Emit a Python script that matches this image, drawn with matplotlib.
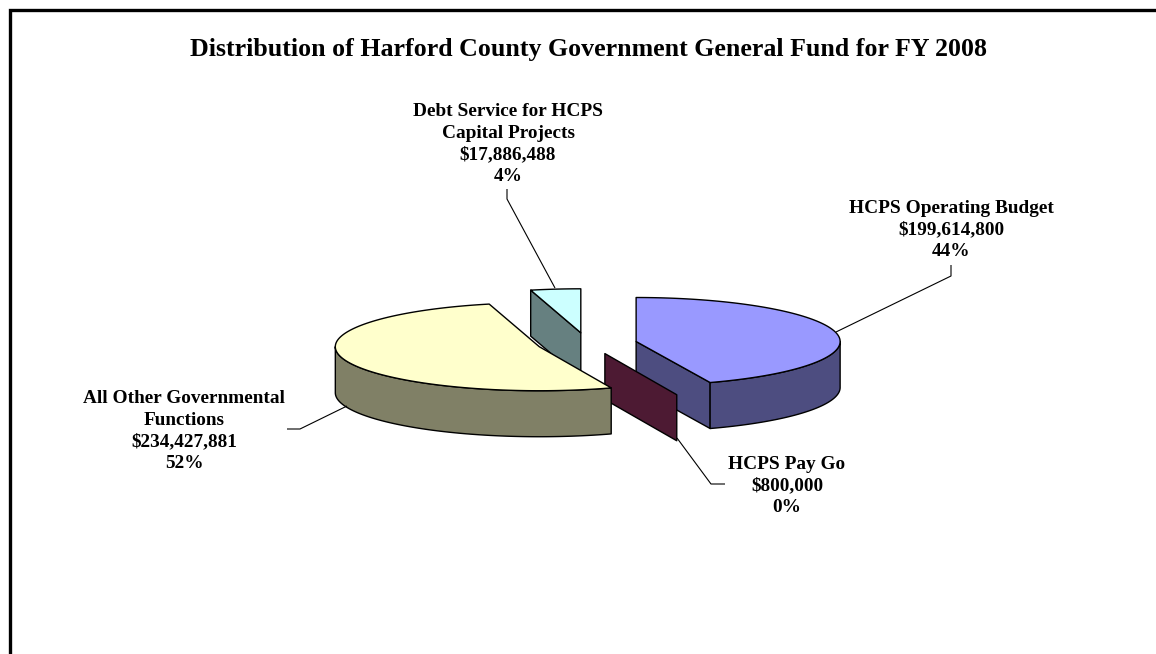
import numpy as np
import matplotlib
matplotlib.use("Agg")
import matplotlib.pyplot as plt
from matplotlib.patches import Polygon

# ---- data ----
categories = ["HCPS Operating Budget", "HCPS Pay Go",
              "All Other Governmental Functions",
              "Debt Service for HCPS Capital Projects"]
values = [199614800, 800000, 234427881, 17886488]
label_texts = ["HCPS Operating Budget\n$199,614,800\n44%",
               "HCPS Pay Go\n$800,000\n0%",
               "All Other Governmental\nFunctions\n$234,427,881\n52%",
               "Debt Service for HCPS\nCapital Projects\n$17,886,488\n4%"]
title = "Distribution of Harford County Government General Fund for FY 2008"
top_colors = ["#9999FF", "#660033", "#FFFFCC", "#CCFFFF"]
side_colors = ["#4D4D80", "#4D1A33", "#808066", "#668080"]

# ---- layout (pixel space) ----
W, H = 1156, 654
CX, CY = 587, 343.5      # pie centre
RX, RY = 204, 44         # projected radii
DEPTH = 46               # pie thickness
EXPLODE = 0.245
draw_order = [3, 0, 1, 2]
label_pos = [(951, 230), (787, 486), (184, 431), (508, 144)]
leaders = [[(836, 332), (951, 276), (951, 265)],
           [(677, 438), (711, 484), (725, 484)],
           [(347, 406), (300, 429), (287, 429)],
           [(555, 288), (507, 199), (507, 189)]]

plt.rcParams["font.family"] = ["Liberation Serif", "DejaVu Serif"]
fig = plt.figure(figsize=(W / 100, H / 100), dpi=100, facecolor="white")
ax = fig.add_axes([0, 0, 1, 1])
ax.set_xlim(0, W)
ax.set_ylim(H, 0)
ax.axis("off")


def rim(c, a0, a1, n=None):
    n = n or max(2, int(abs(a1 - a0)) * 2)
    t = np.radians(np.linspace(a0, a1, n))
    return np.column_stack([c[0] + RX * np.sin(t), c[1] - RY * np.cos(t)])


def shift(p, d=DEPTH):
    return np.asarray(p) + np.array([0, d])


fractions = np.array(values, dtype=float) / np.sum(values)
edges = np.concatenate([[0], np.cumsum(fractions) * 360])

for i in draw_order:
    a0, a1 = edges[i], edges[i + 1]
    mid = np.radians((a0 + a1) / 2)
    c = np.array([CX + EXPLODE * RX * np.sin(mid), CY - EXPLODE * RY * np.cos(mid)])
    kw = dict(edgecolor="black", linewidth=1.0, joinstyle="round",
              facecolor=side_colors[i])
    # flat cut faces that look towards the viewer
    for a, normal in ((a0, a0 - 90), (a1, a1 + 90)):
        if np.cos(np.radians(normal)) < -1e-6:
            p = rim(c, a, a, 2)[0]
            quad = np.array([c, p, shift(p), shift(c)])
            ax.add_patch(Polygon(quad, closed=True, **kw))
    if a1 - a0 < 1:       # sliver: only its cut face shows
        continue
    # outer wall (only the front half, 90..270 degrees)
    w0, w1 = max(a0, 90), min(a1, 270)
    if w1 > w0:
        wall = rim(c, w0, w1)
        ax.add_patch(Polygon(np.vstack([wall, shift(wall)[::-1]]), closed=True, **kw))
    # top face
    top = np.vstack([[c], rim(c, a0, a1)])
    ax.add_patch(Polygon(top, closed=True, facecolor=top_colors[i],
                         edgecolor="black", linewidth=1.0, joinstyle="round"))

for pts in leaders:
    xs, ys = zip(*pts)
    ax.plot(xs, ys, color="black", lw=0.8, solid_capstyle="butt", zorder=5)

for txt, (x, y) in zip(label_texts, label_pos):
    ax.text(x, y, txt, ha="center", va="center", fontsize=13.9, fontweight="bold",
            linespacing=1.36, color="black", zorder=6)

ax.text(588, 56, title, ha="center", va="baseline", fontsize=18.6, fontweight="bold",
        color="black")

# chart frame: only the left and top edges fall inside the picture
ax.plot([9.5, 9.5, W], [H, 9.5, 9.5], color="black", lw=2.4,
        solid_joinstyle="miter", solid_capstyle="butt", zorder=7)

fig.savefig("out.png", dpi=100, facecolor="white")
